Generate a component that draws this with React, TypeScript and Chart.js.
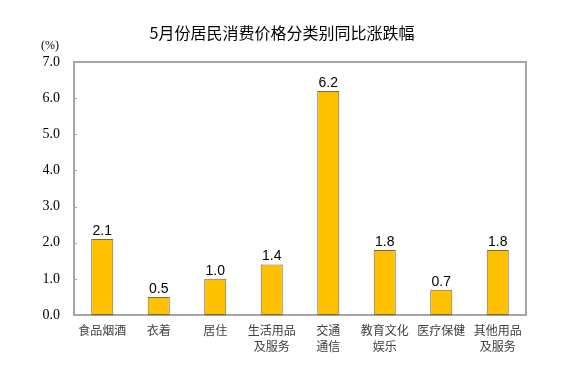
import React, { useEffect, useRef } from "react";
import { Chart, registerables } from "chart.js";

Chart.register(...registerables);

const TITLE = "5月份居民消费价格分类别同比涨跌幅";
const UNIT = "(%)";
const categories: string[][] = [
  ["食品烟酒"],
  ["衣着"],
  ["居住"],
  ["生活用品", "及服务"],
  ["交通", "通信"],
  ["教育文化", "娱乐"],
  ["医疗保健"],
  ["其他用品", "及服务"],
];
const values: number[] = [2.1, 0.5, 1.0, 1.4, 6.2, 1.8, 0.7, 1.8];
const yTicks = { min: 0, max: 7, step: 1 };

const CJK = "'Noto Sans CJK SC', 'Liberation Sans', sans-serif";
const SERIF = "'Liberation Serif', 'Times New Roman', serif";
const SANS = "'Liberation Sans', Arial, sans-serif";

const decorPlugin = {
  id: "decor",
  afterDraw(chart: any) {
    const ctx = chart.ctx;
    const a = chart.chartArea;
    ctx.save();
    ctx.strokeStyle = "#a6a6a6";
    ctx.lineWidth = 2;
    ctx.beginPath();
    ctx.moveTo(a.left, a.top);
    ctx.lineTo(a.right, a.top);
    ctx.lineTo(a.right, a.bottom);
    ctx.stroke();
    ctx.lineWidth = 1;
    const ys = chart.scales.y;
    for (let v = yTicks.min; v <= yTicks.max; v += yTicks.step) {
      const py = Math.round(ys.getPixelForValue(v)) + 0.5;
      ctx.beginPath();
      ctx.moveTo(a.left, py);
      ctx.lineTo(a.left + 3, py);
      ctx.stroke();
    }
    ctx.fillStyle = "#000";
    ctx.font = `16px ${CJK}`;
    ctx.textAlign = "center";
    ctx.textBaseline = "middle";
    ctx.fillText(TITLE, 282, 33);
    ctx.font = `12px ${SERIF}`;
    ctx.fillText(UNIT, 50, 46);
    const meta = chart.getDatasetMeta(0);
    ctx.font = `14px ${SANS}`;
    ctx.textBaseline = "bottom";
    meta.data.forEach((bar: any, i: number) => {
      ctx.fillText(values[i].toFixed(1), bar.x, bar.y - 1);
    });
    ctx.restore();
  },
};

export default function App() {
  const ref = useRef<HTMLCanvasElement | null>(null);
  useEffect(() => {
    if (!ref.current) return;
    const chart = new Chart(ref.current, {
      type: "bar",
      data: {
        labels: categories,
        datasets: [
          {
            data: values,
            backgroundColor: "#FFC000",
            borderColor: "#7a6a45",
            borderWidth: 1,
            borderSkipped: false,
            categoryPercentage: 1,
            barPercentage: 0.39,
          },
        ],
      },
      options: {
        responsive: false,
        animation: false,
        maintainAspectRatio: false,
        layout: { padding: { top: 62, right: 56, left: 0, bottom: 0 } },
        plugins: {
          legend: { display: false },
          tooltip: { enabled: false },
          title: { display: false },
        },
        scales: {
          x: {
            grid: { display: false, drawTicks: false },
            border: { display: true, color: "#a6a6a6", width: 2 },
            ticks: {
              color: "#404040",
              padding: 7,
              maxRotation: 0,
              autoSkip: false,
              font: { family: CJK, size: 12, lineHeight: 16 / 12 },
            },
            afterFit: (s: any) => {
              s.height = 60;
            },
          },
          y: {
            min: yTicks.min,
            max: yTicks.max,
            grid: { display: false, drawTicks: false },
            border: { display: true, color: "#a6a6a6", width: 2 },
            ticks: {
              stepSize: yTicks.step,
              color: "#000",
              padding: 14,
              font: { family: SERIF, size: 14 },
              callback: (v: any) => Number(v).toFixed(1),
            },
            afterFit: (s: any) => {
              s.width = 74;
            },
          },
        },
      },
      plugins: [decorPlugin],
    });
    return () => chart.destroy();
  }, []);
  return (
    <div style={{ position: "absolute", left: 0, top: 0, width: 582, height: 375, background: "#fff" }}>
      <canvas ref={ref} width={582} height={375} style={{ width: 582, height: 375 }} />
    </div>
  );
}
